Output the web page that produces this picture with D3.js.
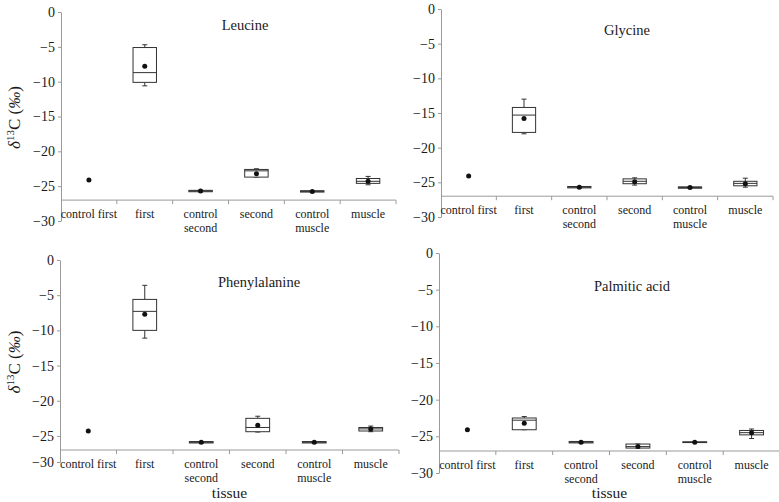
<!DOCTYPE html>
<html>
<head>
<meta charset="utf-8">
<script src="https://cdn.jsdelivr.net/npm/d3@7"></script>
<style>
  html, body { margin: 0; padding: 0; background: #fff; }
  svg { display: block; }
  text { font-family: "Liberation Serif", "Times New Roman", "DejaVu Serif", serif; fill: #1a1a1a; }
</style>
</head>
<body>
<svg id="chart" width="779" height="502"></svg>
<script>
// ---- data ----
const categories = ["control first", "first", "control second", "second", "control muscle", "muscle"];
const xTickLabels = [["control first"], ["first"], ["control", "second"], ["second"], ["control", "muscle"], ["muscle"]];
const panelTitles = ["Leucine", "Glycine", "Phenylalanine", "Palmitic acid"];
const yTicks = [0, -5, -10, -15, -20, -25, -30];
const xAxisTitle = "tissue";

// each row: [whiskerLow, q1, median, q3, whiskerHigh, mean]; null = no box (single value)
const leucine = [
  [null, null, null, null, null, -24.1],
  [-10.6, -10.1, -8.7, -5.1, -4.7, -7.8],
  [-25.8, -25.8, -25.7, -25.6, -25.6, -25.7],
  [-23.7, -23.7, -22.8, -22.6, -22.5, -23.2],
  [-25.85, -25.85, -25.75, -25.65, -25.65, -25.75],
  [-24.8, -24.6, -24.3, -23.9, -23.6, -24.3]
];
const glycine = [
  [null, null, null, null, null, -24.1],
  [-18.0, -17.8, -15.3, -14.2, -13.0, -15.8],
  [-25.8, -25.8, -25.7, -25.6, -25.6, -25.7],
  [-25.4, -25.2, -24.85, -24.5, -24.35, -24.9],
  [-25.85, -25.85, -25.75, -25.65, -25.65, -25.75],
  [-25.7, -25.5, -25.15, -24.85, -24.4, -25.2]
];
const phenylalanine = [
  [null, null, null, null, null, -24.3],
  [-11.1, -10.0, -7.3, -5.6, -3.6, -7.7],
  [-26.0, -26.0, -25.9, -25.8, -25.8, -25.9],
  [-24.45, -24.4, -23.8, -22.5, -22.2, -23.5],
  [-26.0, -26.0, -25.9, -25.8, -25.8, -25.9],
  [-24.4, -24.3, -24.0, -23.8, -23.6, -24.0]
];
const palmiticAcid = [
  [null, null, null, null, null, -24.1],
  [-24.1, -24.1, -22.8, -22.5, -22.3, -23.2],
  [-25.9, -25.9, -25.8, -25.7, -25.7, -25.8],
  [-26.6, -26.6, -26.4, -26.05, -26.05, -26.4],
  [-25.85, -25.85, -25.8, -25.75, -25.75, -25.8],
  [-25.3, -24.8, -24.5, -24.2, -24.0, -24.5]
];
const panelData = [leucine, glycine, phenylalanine, palmiticAcid];

// ---- layout ----
const panelLayout = [
  { x0: 61,  x1: 396, yDomain: [0, -30], yRange: [12, 221], ylabel: true,  xtitle: false, title: [245, 30] },
  { x0: 441, x1: 773, yDomain: [0, -30], yRange: [9, 217],  ylabel: false, xtitle: false, title: [627, 35] },
  { x0: 60,  x1: 399, yDomain: [0, -27, -30], yRange: [260, 450, 462], ylabel: true, xtitle: true, title: [259, 287] },
  { x0: 439, x1: 780, yDomain: [0, -30], yRange: [253, 473], ylabel: false, xtitle: true, title: [632, 291] }
];
const axisCrossValue = -27;

const svg = d3.select("#chart");
const fmt = d => d === 0 ? "0" : "\u2212" + Math.abs(d);

panelLayout.forEach((L, i) => {
  const data = panelData[i];
  const g = svg.append("g");
  const x = d3.scaleBand().domain(categories).range([L.x0, L.x1]).padding(0);
  const y = d3.scaleLinear().domain(L.yDomain).range(L.yRange);
  const yCross = y(axisCrossValue);

  // y axis
  const yAxis = d3.axisLeft(y).tickValues(yTicks).tickFormat(fmt).tickSize(3).tickPadding(3).tickSizeOuter(0);
  const ya = g.append("g").attr("transform", `translate(${L.x0},0)`).call(yAxis);
  ya.attr("font-family", null);
  ya.select(".domain").attr("stroke", "#9a9a9a");
  ya.selectAll(".tick line").attr("stroke", "#9a9a9a");
  ya.selectAll(".tick text").style("font-size", "14px").attr("fill", "#1a1a1a");

  // x axis (crossing at -27)
  const xa = g.append("g").attr("transform", `translate(0,${yCross})`);
  xa.append("line").attr("x1", L.x0).attr("x2", L.x1).attr("stroke", "#9a9a9a");
  const bounds = categories.map(c => x(c) + x.bandwidth());
  xa.selectAll("line.tk").data(bounds).join("line").attr("class", "tk")
    .attr("x1", d => d).attr("x2", d => d).attr("y1", 0).attr("y2", 4).attr("stroke", "#9a9a9a");
  const lbl = xa.selectAll("text.cat").data(categories).join("text").attr("class", "cat")
    .attr("x", d => x(d) + x.bandwidth() / 2).attr("y", 17.5)
    .attr("text-anchor", "middle").style("font-size", "12px");
  lbl.each(function (d, k) {
    const t = d3.select(this);
    xTickLabels[k].forEach((line, j) => {
      t.append("tspan").attr("x", x(d) + x.bandwidth() / 2).attr("dy", j === 0 ? 0 : 14.5).text(line);
    });
  });

  // boxes
  const bw = x.bandwidth() * 0.42;
  const cap = 5;
  data.forEach((r, k) => {
    const cx = x(categories[k]) + x.bandwidth() / 2;
    const [lo, q1, med, q3, hi, mean] = r;
    const bg = g.append("g");
    if (q1 !== null) {
      bg.append("line").attr("x1", cx).attr("x2", cx).attr("y1", y(lo)).attr("y2", y(q1)).attr("stroke", "#333");
      bg.append("line").attr("x1", cx).attr("x2", cx).attr("y1", y(q3)).attr("y2", y(hi)).attr("stroke", "#333");
      bg.append("line").attr("x1", cx - cap / 2).attr("x2", cx + cap / 2).attr("y1", y(lo)).attr("y2", y(lo)).attr("stroke", "#333");
      bg.append("line").attr("x1", cx - cap / 2).attr("x2", cx + cap / 2).attr("y1", y(hi)).attr("y2", y(hi)).attr("stroke", "#333");
      bg.append("rect").attr("x", cx - bw / 2).attr("width", bw)
        .attr("y", y(q3)).attr("height", Math.max(0.5, y(q1) - y(q3)))
        .attr("fill", "#fff").attr("stroke", "#333").attr("stroke-width", 1);
      bg.append("line").attr("x1", cx - bw / 2).attr("x2", cx + bw / 2).attr("y1", y(med)).attr("y2", y(med)).attr("stroke", "#333");
    }
    bg.append("circle").attr("cx", cx).attr("cy", y(mean)).attr("r", 2.5).attr("fill", "#111");
  });

  // title
  g.append("text").attr("x", L.title[0]).attr("y", L.title[1]).attr("text-anchor", "middle")
    .style("font-size", "14.5px").text(panelTitles[i]);

  // y label
  if (L.ylabel) {
    const cy = (L.yRange[0] + L.yRange[L.yRange.length - 1]) / 2 + 1;
    const t = g.append("text").attr("transform", `translate(20,${cy}) rotate(-90)`)
      .attr("text-anchor", "middle").style("font-size", "17px");
    t.append("tspan").style("font-style", "italic").text("\u03b4");
    t.append("tspan").attr("dy", -6).style("font-size", "11px").text("13");
    t.append("tspan").attr("dy", 6).text("C (");
    t.append("tspan").style("font-style", "italic").text("\u2030");
    t.append("tspan").text(")");
  }
  if (L.xtitle) {
    g.append("text").attr("x", (L.x0 + L.x1) / 2).attr("y", 498)
      .attr("text-anchor", "middle").style("font-size", "15.5px").text(xAxisTitle);
  }
});
</script>
</body>
</html>
